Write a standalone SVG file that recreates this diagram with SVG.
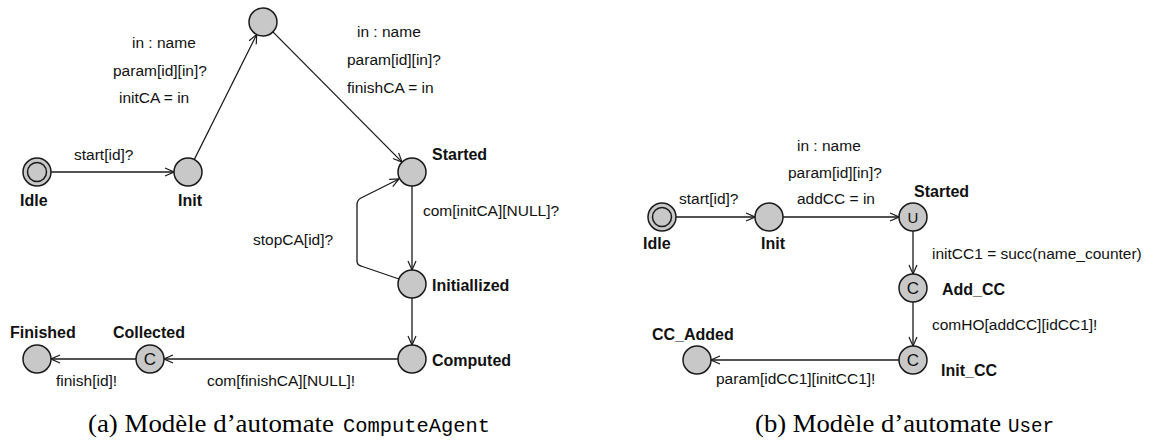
<svg xmlns="http://www.w3.org/2000/svg" width="1159" height="446" viewBox="0 0 1159 446">
<style>
.loc{fill:#c8c8c8;stroke:#1a1a1a;stroke-width:1.5}
.edge{fill:none;stroke:#1a1a1a;stroke-width:1.3}
.lbl{font-family:"Liberation Sans",Arial,sans-serif;font-size:15.5px;fill:#111}
.name{font-family:"Liberation Sans",Arial,sans-serif;font-size:16px;font-weight:bold;fill:#111}
.sym{font-family:"Liberation Sans",Arial,sans-serif;font-size:17px;fill:#111;text-anchor:middle}
.cap{font-family:"Liberation Serif","Times New Roman",serif;font-size:25px;fill:#000}
.mono{font-family:"Liberation Mono","Courier New",monospace;font-size:21px;fill:#000}
</style>
<defs>
<marker id="arr" viewBox="0 0 10 10" refX="10" refY="5" markerWidth="10" markerHeight="10" orient="auto" markerUnits="userSpaceOnUse">
<path d="M1,1 L10,5 L1,9" fill="none" stroke="#1a1a1a" stroke-width="1.2"/>
</marker>
</defs>

<g id="connectors">
<line class="edge" x1="51" y1="172" x2="174" y2="172" marker-end="url(#arr)"/>
<line class="edge" x1="194.3" y1="159.5" x2="256.7" y2="34.5" marker-end="url(#arr)"/>
<line class="edge" x1="272.9" y1="31.9" x2="402.1" y2="162.1" marker-end="url(#arr)"/>
<line class="edge" x1="412" y1="186" x2="412" y2="270" marker-end="url(#arr)"/>
<path class="edge" d="M399,279 L361,266 Q357,265 357,261 L357,205 Q357,200 361,198 L399,179" marker-end="url(#arr)"/>
<line class="edge" x1="412" y1="298" x2="412" y2="345" marker-end="url(#arr)"/>
<line class="edge" x1="398" y1="359" x2="164" y2="359" marker-end="url(#arr)"/>
<line class="edge" x1="136" y1="359" x2="51" y2="359" marker-end="url(#arr)"/>
<line class="edge" x1="676" y1="217" x2="755" y2="217" marker-end="url(#arr)"/>
<line class="edge" x1="783" y1="217" x2="899" y2="217" marker-end="url(#arr)"/>
<line class="edge" x1="913" y1="231" x2="913" y2="274" marker-end="url(#arr)"/>
<line class="edge" x1="913" y1="302" x2="913" y2="346" marker-end="url(#arr)"/>
<line class="edge" x1="899" y1="360" x2="711" y2="360" marker-end="url(#arr)"/>
</g>

<g id="edge-labels">
<text class="lbl" x="74" y="160">start[id]?</text>
<text class="lbl" x="132" y="48">in : name</text>
<text class="lbl" x="113" y="76">param[id][in]?</text>
<text class="lbl" x="119" y="103">initCA = in</text>
<text class="lbl" x="357" y="37">in : name</text>
<text class="lbl" x="347" y="65">param[id][in]?</text>
<text class="lbl" x="347" y="93">finishCA = in</text>
<text class="lbl" x="423" y="216">com[initCA][NULL]?</text>
<text class="lbl" x="253" y="245">stopCA[id]?</text>
<text class="lbl" x="207" y="386">com[finishCA][NULL]!</text>
<text class="lbl" x="56" y="386">finish[id]!</text>
<text class="lbl" x="679" y="204">start[id]?</text>
<text class="lbl" x="797" y="151">in : name</text>
<text class="lbl" x="788" y="178">param[id][in]?</text>
<text class="lbl" x="797" y="204">addCC = in</text>
<text class="lbl" x="932" y="259">initCC1 = succ(name_counter)</text>
<text class="lbl" x="932" y="330">comHO[addCC][idCC1]!</text>
<text class="lbl" x="716" y="384">param[idCC1][initCC1]!</text>
</g>

<g id="ca-idle">
<circle class="loc" cx="37" cy="172" r="14"/>
<circle class="loc" cx="37" cy="172" r="9.5"/>
<text class="name" x="20" y="206">Idle</text>
</g>
<g id="ca-init">
<circle class="loc" cx="188" cy="172" r="14"/>
<text class="name" x="178" y="206">Init</text>
</g>
<g id="ca-top">
<circle class="loc" cx="263" cy="22" r="14"/>
</g>
<g id="ca-started">
<circle class="loc" cx="412" cy="172" r="14"/>
<text class="name" x="432" y="160">Started</text>
</g>
<g id="ca-initiallized">
<circle class="loc" cx="412" cy="284" r="14"/>
<text class="name" x="432" y="291">Initiallized</text>
</g>
<g id="ca-computed">
<circle class="loc" cx="412" cy="359" r="14"/>
<text class="name" x="432" y="366">Computed</text>
</g>
<g id="ca-collected">
<circle class="loc" cx="150" cy="359" r="14"/>
<text class="sym" x="150" y="365">C</text>
<text class="name" x="113" y="338">Collected</text>
</g>
<g id="ca-finished">
<circle class="loc" cx="37" cy="359" r="14"/>
<text class="name" x="10" y="338">Finished</text>
</g>

<g id="u-idle">
<circle class="loc" cx="662" cy="217" r="14"/>
<circle class="loc" cx="662" cy="217" r="9.5"/>
<text class="name" x="643" y="249">Idle</text>
</g>
<g id="u-init">
<circle class="loc" cx="769" cy="217" r="14"/>
<text class="name" x="761" y="249">Init</text>
</g>
<g id="u-started">
<circle class="loc" cx="913" cy="217" r="14"/>
<text class="sym" x="913" y="222.5" style="font-size:15px">U</text>
<text class="name" x="914" y="197">Started</text>
</g>
<g id="u-addcc">
<circle class="loc" cx="913" cy="288" r="14"/>
<text class="sym" x="913" y="294">C</text>
<text class="name" x="942" y="295">Add_CC</text>
</g>
<g id="u-initcc">
<circle class="loc" cx="913" cy="360" r="14"/>
<text class="sym" x="913" y="366">C</text>
<text class="name" x="941" y="376">Init_CC</text>
</g>
<g id="u-ccadded">
<circle class="loc" cx="697" cy="360" r="14"/>
<text class="name" x="652" y="340">CC_Added</text>
</g>

<g id="captions">
<text class="cap" x="88" y="432" textLength="246" lengthAdjust="spacingAndGlyphs">(a) Modèle d’automate</text>
<text class="mono" x="343" y="432" textLength="147" lengthAdjust="spacingAndGlyphs">ComputeAgent</text>
<text class="cap" x="755" y="432" textLength="246" lengthAdjust="spacingAndGlyphs">(b) Modèle d’automate</text>
<text class="mono" x="1008" y="432" textLength="46" lengthAdjust="spacingAndGlyphs">User</text>
</g>
</svg>
